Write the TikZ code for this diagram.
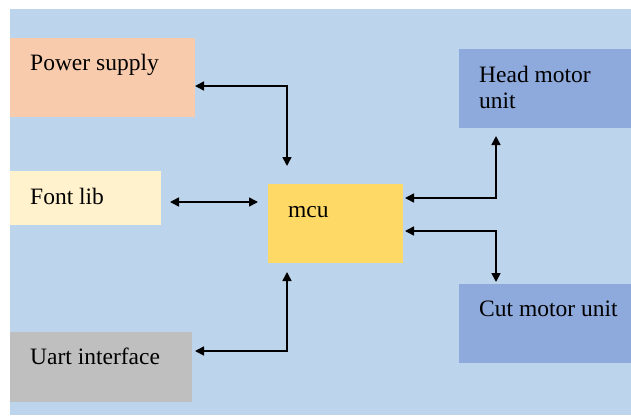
\documentclass[tikz,border=0pt]{standalone}
\usepackage{fontspec}
\setmainfont{Liberation Serif}
\usetikzlibrary{arrows.meta,calc}
\definecolor{bgblue}{HTML}{BDD5EC}
\definecolor{peach}{HTML}{F8CBAD}
\definecolor{cream}{HTML}{FFF2CC}
\definecolor{gold}{HTML}{FFD966}
\definecolor{motor}{HTML}{8EA9DB}
\definecolor{greybox}{HTML}{BFBFBF}
\tikzset{
  blk/.style={draw=none,inner sep=0pt,outer sep=0pt,anchor=north west},
  txt/.style={anchor=base west,inner sep=0pt,font=\fontsize{23.5}{27}\selectfont},
  link/.style={line width=1.6pt,{Triangle[length=9pt,width=9pt]}-{Triangle[length=9pt,width=9pt]}}
}
\begin{document}
\begin{tikzpicture}[x=1pt,y=-1pt]
\useasboundingbox (0,0) rectangle (631,415);
\fill[bgblue] (10,9) rectangle (631,415);
% boxes
\node[blk,fill=peach,minimum width=185pt,minimum height=79pt] (ps) at (10,38) {};
\node[blk,fill=cream,minimum width=151pt,minimum height=54pt] (fl) at (10,171) {};
\node[blk,fill=gold,minimum width=135pt,minimum height=79pt] (mcu) at (268,184) {};
\node[blk,fill=motor,minimum width=172pt,minimum height=79pt] (hm) at (459,49) {};
\node[blk,fill=motor,minimum width=172pt,minimum height=79pt] (cm) at (459,284) {};
\node[blk,fill=greybox,minimum width=182pt,minimum height=70pt] (ua) at (10,332) {};
% texts
\node[txt] (pst) at (30,70) {Power supply};
\node[txt] (flt) at (30,204) {Font lib};
\node[txt] (mcut) at (288,217) {mcu};
\node[txt] (hmt1) at (479,82) {Head motor};
\node[txt] (hmt2) at (479,108) {unit};
\node[txt] (cmt) at (479,316) {Cut motor unit};
\node[txt] (uat) at (30,364) {Uart interface};
% connector points
\coordinate (pj) at (287,86);
\coordinate (pe) at (287,166);
\coordinate (fa) at (170,202);
\coordinate (fb) at (258,202);
\coordinate (uj) at (287,351);
\coordinate (ue) at (287,272);
\coordinate (ha) at (405,198);
\coordinate (hj) at (496,198);
\coordinate (he) at (496,136);
\coordinate (ca) at (405,231);
\coordinate (cj) at (496,231);
\coordinate (ce) at (496,282);
% connectors
\draw[link] (ps.east |- pj) -- (pj) -- (pe);
\draw[link] (fa) -- (fb);
\draw[link] (ua.east |- uj) ++(3,0) -- (uj) -- (ue);
\draw[link] (ha) -- (hj) -- (he);
\draw[link] (ca) -- (cj) -- (ce);
\end{tikzpicture}
\end{document}
